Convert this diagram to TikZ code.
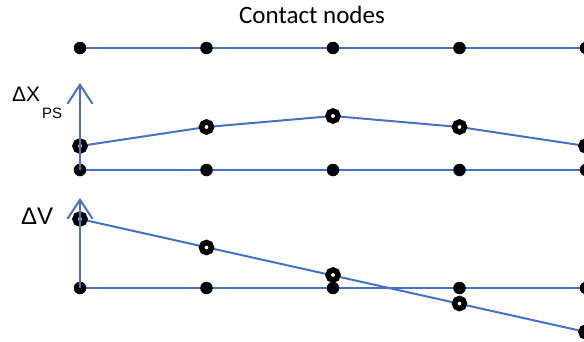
\documentclass[tikz,border=0pt]{standalone}
\usepackage{fontspec}
\setmainfont{Carlito}
\newfontfamily\labelfont{Liberation Sans}
\usetikzlibrary{arrows.meta,backgrounds}
\definecolor{lineblue}{RGB}{68,114,196}
\tikzset{
  dot/.style={circle,fill=black,inner sep=0pt,minimum size=12.5pt},
  ring/.style={circle,draw=black,fill=white,line width=5.5pt,inner sep=0pt,minimum size=10pt},
  wire/.style={lineblue,line width=2pt},
  axis/.style={lineblue,line width=2pt,-{Straight Barb[length=19pt,width=25pt]}},
  bigtext/.style={anchor=base,inner sep=0pt,font=\fontsize{25}{30}\selectfont},
  symtext/.style={anchor=base west,inner sep=0pt,font=\labelfont\fontsize{#1}{#1}\selectfont}
}
\begin{document}
\begin{tikzpicture}[x=1pt,y=-1pt]
\useasboundingbox (0,0) rectangle (584,341);

% title
\node[bigtext] (title) at (312,23) {Contact nodes};

% row 1: contact nodes
\foreach \i/\x in {1/80,2/206.5,3/333,4/459.5,5/586}
  \node[dot] (a\i) at (\x,48) {};

% row 2: baseline nodes and displacement values
\foreach \i/\x in {1/80,2/206.5,3/333,4/459.5,5/586}
  \node[dot] (b\i) at (\x,170) {};
\foreach \i/\x/\y in {1/80/146,2/206.5/127,3/333/116,4/459.5/127,5/586/146}
  \node[ring] (p\i) at (\x,\y) {};

% row 3: baseline nodes and velocity values
\foreach \i/\x in {1/80,2/206.5,3/333,4/459.5,5/586}
  \node[dot] (c\i) at (\x,288) {};
\foreach \i/\x/\y in {1/80/219,2/206.5/247.5,3/333/275,4/459.5/303.5,5/586/332}
  \node[ring] (v\i) at (\x,\y) {};

\begin{scope}[on background layer]
  \draw[wire] (a1.center) -- (a5.center);
  \draw[wire] (b1.center) -- (b5.center);
  \draw[wire] (p1.center) -- (p2.center) -- (p3.center) -- (p4.center) -- (p5.center);
  \draw[wire] (c1.center) -- (c5.center);
  \draw[wire] (v1.center) -- (v5.center);
\end{scope}

% axes
\coordinate (xtop) at (80,83);
\coordinate (vtop) at (80,198);
\draw[axis] (b1.center) -- (xtop);
\draw[axis] (c1.center) -- (vtop);

% axis labels
\node[symtext=21] (dx) at (12,101) {ΔX};
\node[symtext=15] (ps) at (42,118) {PS};
\node[symtext=24] (dv) at (21,224) {ΔV};
\end{tikzpicture}
\end{document}
